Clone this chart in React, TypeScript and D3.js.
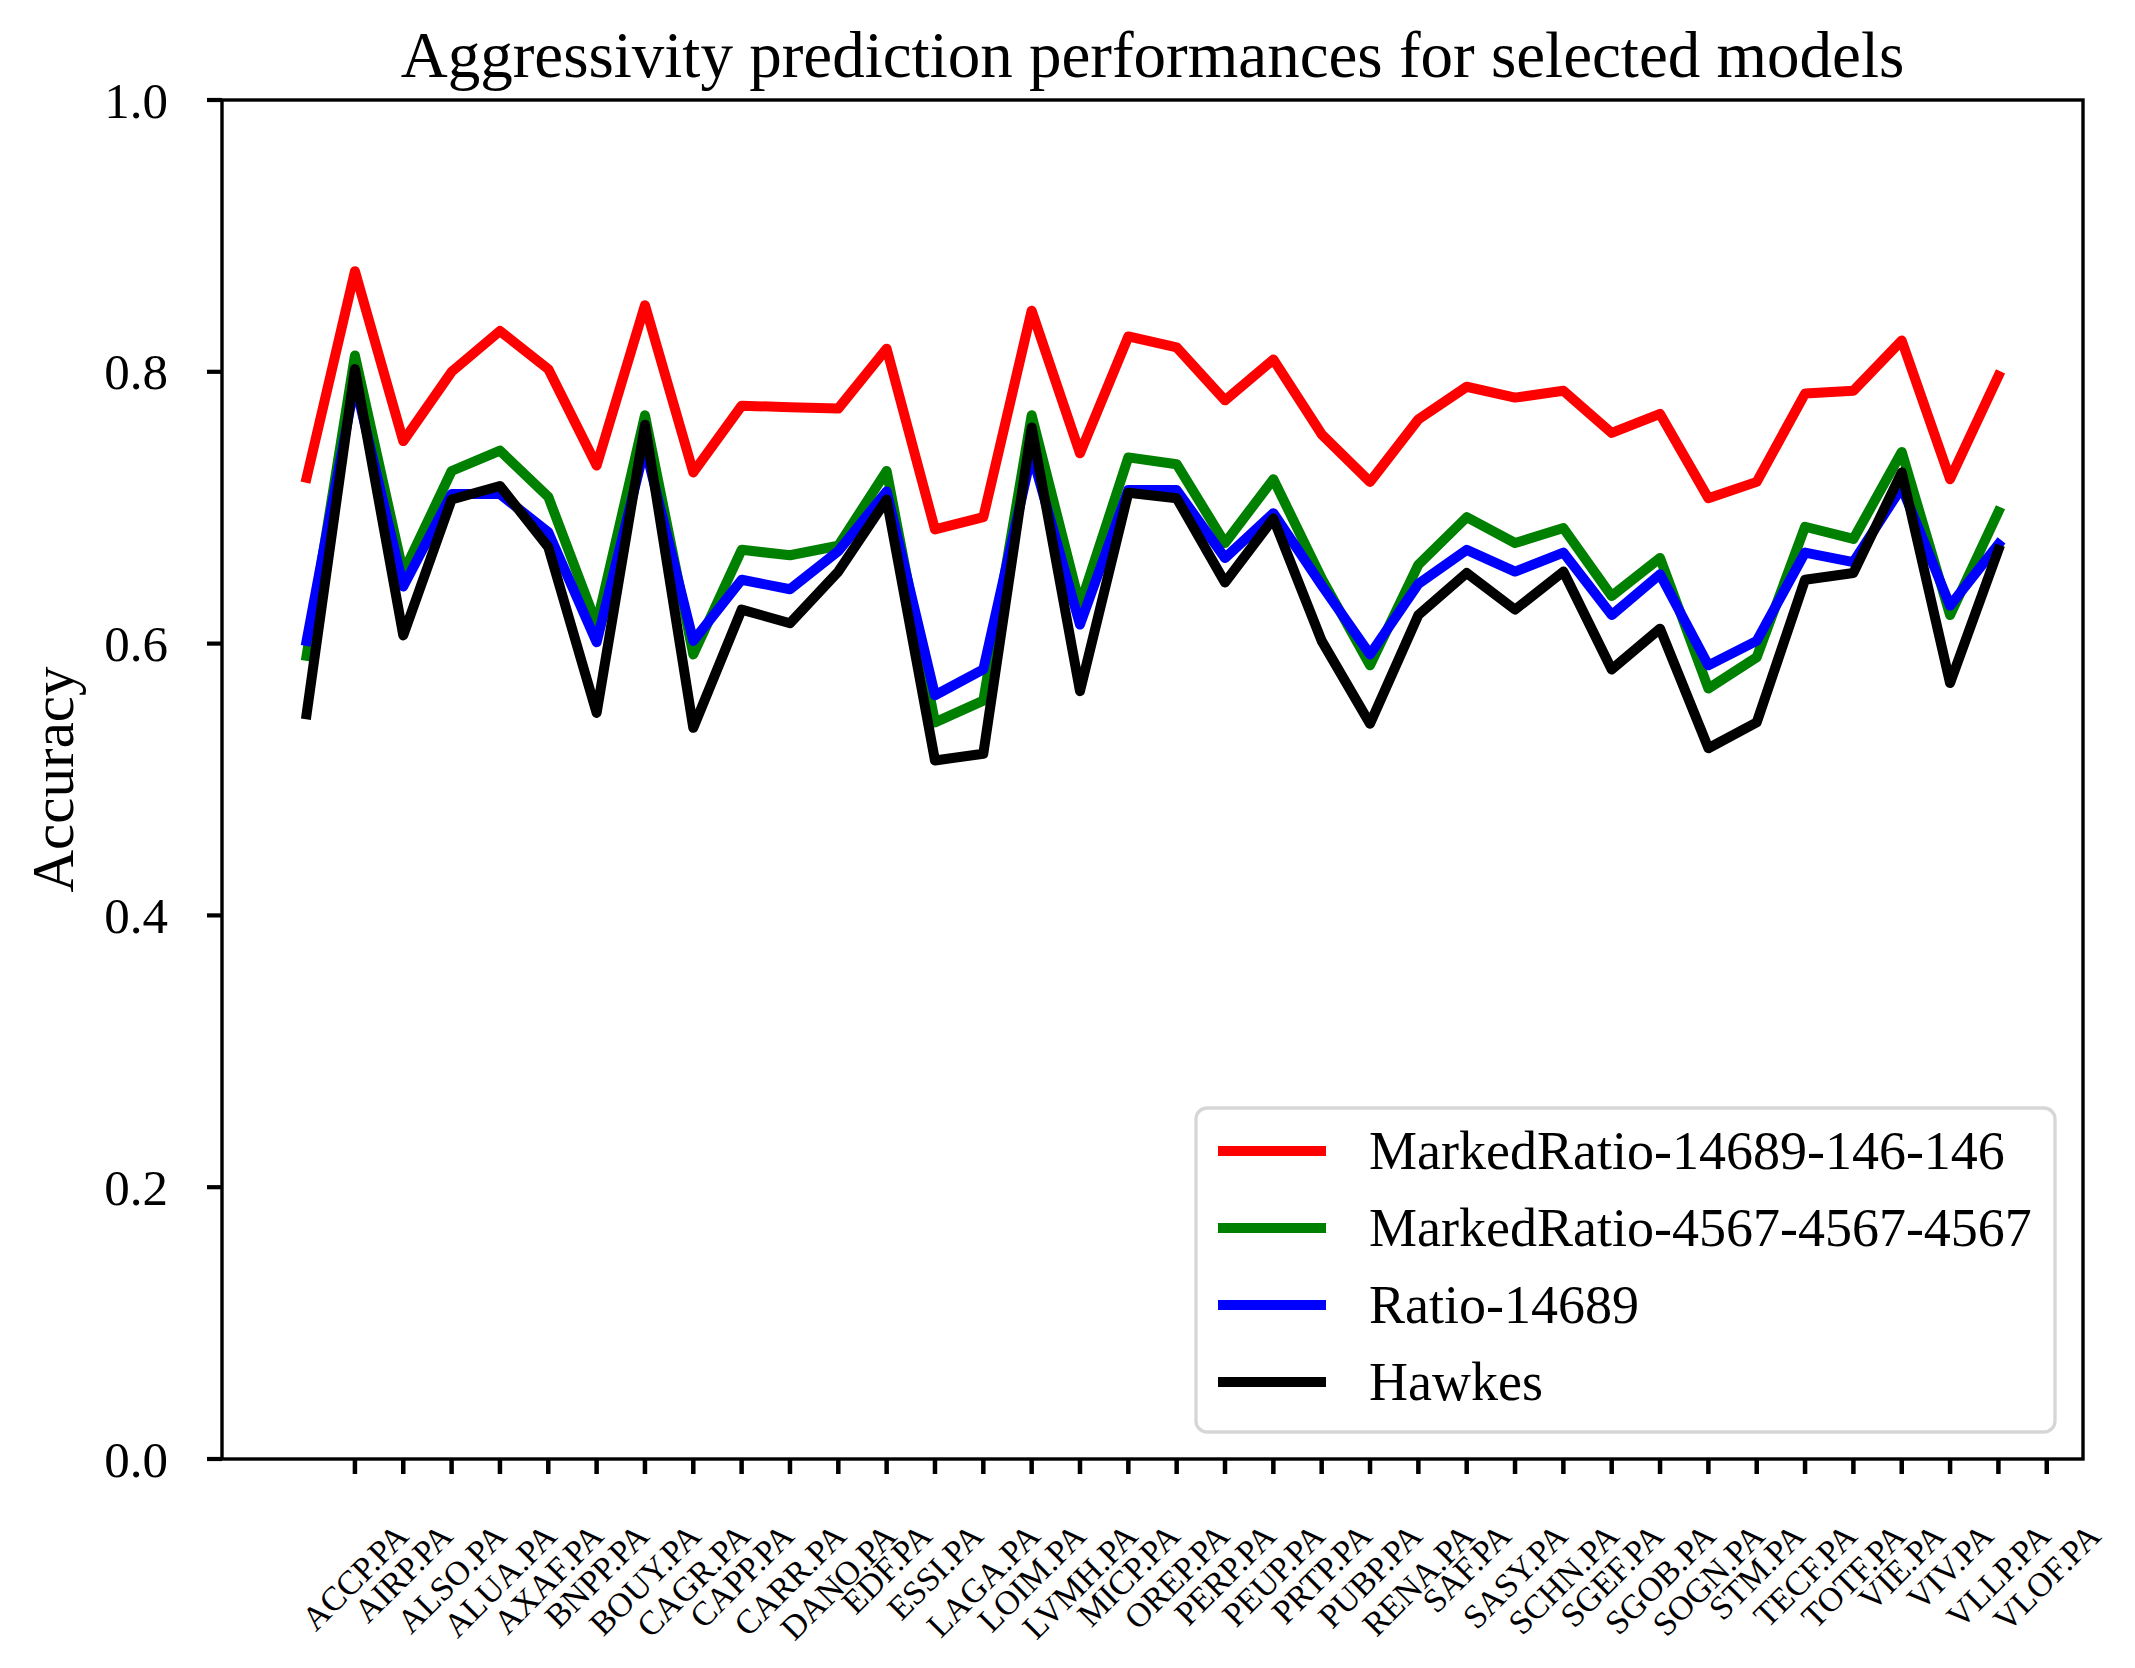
import React, { useEffect, useRef } from "react";
import * as d3 from "d3";

const tickers = [
  "ACCP.PA", "AIRP.PA", "ALSO.PA", "ALUA.PA", "AXAF.PA", "BNPP.PA", "BOUY.PA", "CAGR.PA",
  "CAPP.PA", "CARR.PA", "DANO.PA", "EDF.PA", "ESSI.PA", "LAGA.PA", "LOIM.PA", "LVMH.PA",
  "MICP.PA", "OREP.PA", "PERP.PA", "PEUP.PA", "PRTP.PA", "PUBP.PA", "RENA.PA", "SAF.PA",
  "SASY.PA", "SCHN.PA", "SGEF.PA", "SGOB.PA", "SOGN.PA", "STM.PA", "TECF.PA", "TOTF.PA",
  "VIE.PA", "VIV.PA", "VLLP.PA", "VLOF.PA",
];

const markedRatio146 = [
  0.722, 0.874, 0.749, 0.800, 0.830, 0.802, 0.731, 0.849, 0.726, 0.775,
  0.774, 0.773, 0.817, 0.684, 0.693, 0.845, 0.740, 0.826, 0.818, 0.779,
  0.809, 0.754, 0.719, 0.765, 0.789, 0.781, 0.786, 0.755, 0.769, 0.707,
  0.719, 0.784, 0.786, 0.823, 0.721, 0.797,
];

const markedRatio4567 = [
  0.591, 0.812, 0.652, 0.727, 0.742, 0.708, 0.614, 0.768, 0.592, 0.669,
  0.665, 0.672, 0.727, 0.542, 0.558, 0.768, 0.628, 0.737, 0.732, 0.674,
  0.721, 0.648, 0.584, 0.658, 0.693, 0.674, 0.685, 0.635, 0.663, 0.567,
  0.590, 0.686, 0.677, 0.741, 0.621, 0.697,
];

const ratio14689 = [
  0.602, 0.792, 0.642, 0.710, 0.710, 0.682, 0.601, 0.745, 0.602, 0.647,
  0.640, 0.668, 0.712, 0.562, 0.581, 0.740, 0.614, 0.713, 0.713, 0.663,
  0.696, 0.643, 0.592, 0.644, 0.669, 0.653, 0.667, 0.621, 0.651, 0.584,
  0.602, 0.667, 0.660, 0.715, 0.628, 0.673,
];

const hawkes = [
  0.548, 0.802, 0.606, 0.706, 0.716, 0.671, 0.549, 0.761, 0.538, 0.625,
  0.615, 0.653, 0.706, 0.514, 0.519, 0.759, 0.565, 0.711, 0.707, 0.645,
  0.692, 0.602, 0.541, 0.621, 0.652, 0.625, 0.653, 0.581, 0.611, 0.523,
  0.542, 0.647, 0.652, 0.726, 0.571, 0.669,
];

const seriesNames = [
  "MarkedRatio-14689-146-146",
  "MarkedRatio-4567-4567-4567",
  "Ratio-14689",
  "Hawkes",
];
const seriesColors = ["#ff0000", "#008000", "#0000ff", "#000000"];
const seriesValues = [markedRatio146, markedRatio4567, ratio14689, hawkes];

const yTicks = [0, 0.2, 0.4, 0.6, 0.8, 1.0];

const titleText = "Aggressivity prediction performances for selected models";
const yLabelText = "Accuracy";

const FONT = "'Liberation Serif', 'Times New Roman', Times, serif";

export default function App() {
  const ref = useRef<SVGSVGElement | null>(null);

  useEffect(() => {
    const W = 2135, H = 1668;
    const L = 222, R = 2083, T = 100, B = 1459;
    const svg = d3.select(ref.current);
    svg.selectAll("*").remove();

    svg.append("rect").attr("width", W).attr("height", H).attr("fill", "#ffffff");

    const n = tickers.length;
    const margin = 0.05 * (n - 1);
    const x = d3.scaleLinear().domain([-margin, n - 1 + margin]).range([L, R]);
    const y = d3.scaleLinear().domain([0, 1]).range([B, T]);

    // lines
    const line = d3
      .line<number>()
      .x((_, i) => x(i))
      .y((d) => y(d));

    seriesValues.forEach((vals, k) => {
      svg
        .append("path")
        .attr("d", line(vals) as string)
        .attr("fill", "none")
        .attr("stroke", seriesColors[k])
        .attr("stroke-width", 10)
        .attr("stroke-linejoin", "round")
        .attr("stroke-linecap", "square");
    });

    // frame
    svg
      .append("rect")
      .attr("x", L)
      .attr("y", T)
      .attr("width", R - L)
      .attr("height", B - T)
      .attr("fill", "none")
      .attr("stroke", "#000")
      .attr("stroke-width", 3.4);

    // y ticks
    const tickLen = 15;
    const yg = svg.append("g");
    yTicks.forEach((t) => {
      yg.append("line")
        .attr("x1", L - tickLen)
        .attr("x2", L)
        .attr("y1", y(t))
        .attr("y2", y(t))
        .attr("stroke", "#000")
        .attr("stroke-width", 4.2);
      yg.append("text")
        .attr("x", 168)
        .attr("y", y(t) + 17.5)
        .attr("text-anchor", "end")
        .attr("font-family", FONT)
        .attr("font-size", 51)
        .attr("fill", "#000")
        .text(t.toFixed(1));
    });

    // x ticks at positions 1..n
    const xg = svg.append("g");
    const fs = 34;
    const inkTop = 1522;
    tickers.forEach((name, i) => {
      const pos = i + 1;
      const px = x(pos);
      xg.append("line")
        .attr("x1", px)
        .attr("x2", px)
        .attr("y1", B)
        .attr("y2", B + tickLen)
        .attr("stroke", "#000")
        .attr("stroke-width", 4.5);
      const txt = xg
        .append("text")
        .attr("x", 0)
        .attr("y", 0)
        .attr("text-anchor", "middle")
        .attr("dominant-baseline", "central")
        .attr("font-family", FONT)
        .attr("font-size", fs)
        .attr("fill", "#000")
        .text(name);
      const w = (txt.node() as SVGTextElement).getComputedTextLength();
      const cy = inkTop + (w / 2 + 0.3245 * fs) / Math.SQRT2;
      txt.attr("transform", `translate(${px},${cy}) rotate(-45)`);
    });

    // title
    svg
      .append("text")
      .attr("x", (L + R) / 2)
      .attr("y", 77)
      .attr("text-anchor", "middle")
      .attr("font-family", FONT)
      .attr("font-size", 65)
      .attr("fill", "#000")
      .text(titleText);

    // y label
    svg
      .append("text")
      .attr("transform", `translate(73,${(T + B) / 2}) rotate(-90)`)
      .attr("text-anchor", "middle")
      .attr("font-family", FONT)
      .attr("font-size", 59)
      .attr("fill", "#000")
      .text(yLabelText);

    // legend
    const lgL = 1196, lgR = 2055, lgT = 1108, lgB = 1432;
    const lg = svg.append("g");
    lg.append("rect")
      .attr("x", lgL)
      .attr("y", lgT)
      .attr("width", lgR - lgL)
      .attr("height", lgB - lgT)
      .attr("rx", 11)
      .attr("ry", 11)
      .attr("fill", "#ffffff")
      .attr("fill-opacity", 0.8)
      .attr("stroke", "#d6d6d6")
      .attr("stroke-width", 3.3);
    const rowY = d3.scalePoint<number>().domain([0, 1, 2, 3]).range([1151, 1382]);
    seriesNames.forEach((nm, k) => {
      const ry = rowY(k) as number;
      lg.append("line")
        .attr("x1", 1218)
        .attr("x2", 1326)
        .attr("y1", ry)
        .attr("y2", ry)
        .attr("stroke", seriesColors[k])
        .attr("stroke-width", 10)
        .attr("stroke-linecap", "butt");
      lg.append("text")
        .attr("x", 1369)
        .attr("y", ry + 18)
        .attr("font-family", FONT)
        .attr("font-size", 54)
        .attr("fill", "#000")
        .text(nm);
    });
  }, []);

  return (
    <svg
      ref={ref}
      width={2135}
      height={1668}
      style={{ position: "absolute", left: 0, top: 0, background: "#fff" }}
    />
  );
}
